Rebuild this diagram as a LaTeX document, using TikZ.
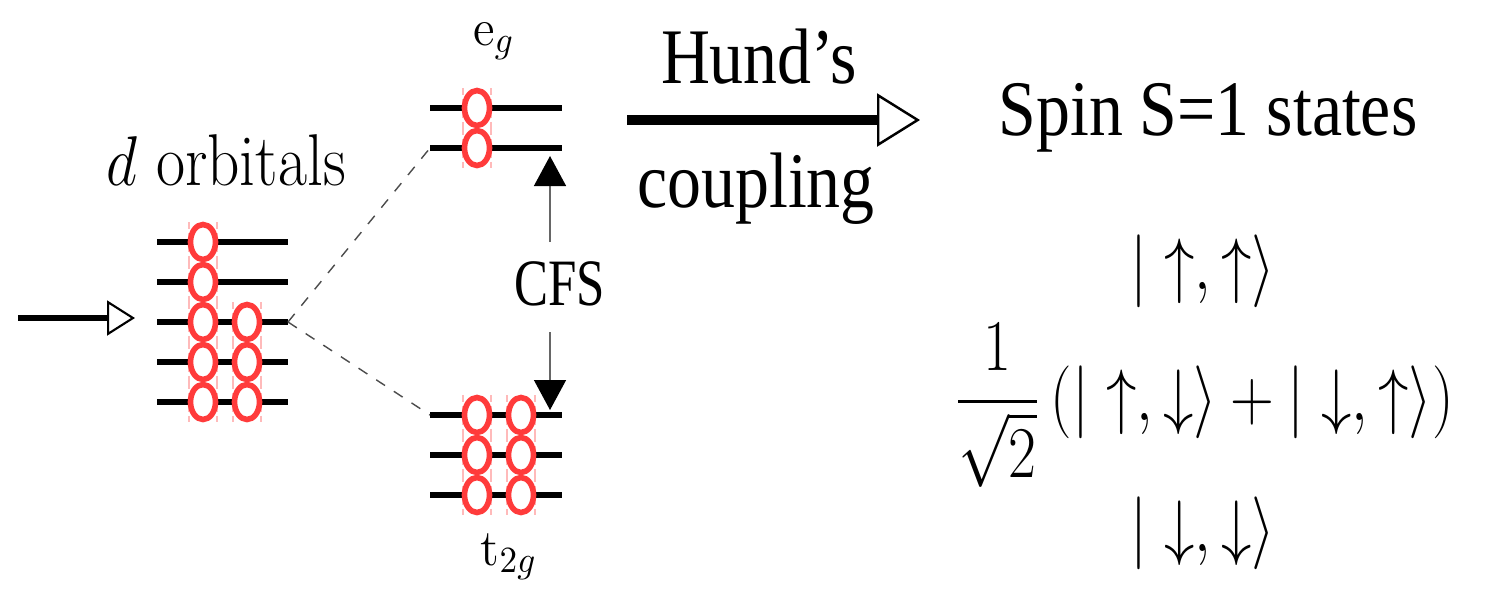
\documentclass[tikz,border=0pt]{standalone}
\usepackage{amsmath,amssymb}
\usepackage{graphicx}
\usepackage{fontspec}
\usepackage{tikz}
\usetikzlibrary{arrows.meta}
\newfontfamily\timesrm{Liberation Serif}
\definecolor{cred}{HTML}{FF3B3B}
\definecolor{cink}{HTML}{000000}
\newcommand{\tallbox}[2]{\scalebox{1}[#1]{#2}}

\begin{document}
\begin{tikzpicture}[x=0.1mm,y=-0.1mm,
    level/.style={cink,line width=1.75pt},
    elec/.style={draw=cred,fill=white,line width=1.6pt},
    ghost/.style={cred!35,line width=0.3pt,dash pattern=on 2pt off 1.2pt},
    split/.style={dashed,black!70,line width=0.4pt},
    lab/.style={inner sep=0pt,anchor=base}]
        \useasboundingbox (0,0) rectangle (1497,596);
        % levels: d shell, e_g pair, t_2g triple
        \foreach \y in {242,282,...,402}{\draw[level] (157,\y) -- (288,\y);}
        \foreach \y in {108,148}{\draw[level] (430,\y) -- (562,\y);}
        \foreach \y in {415,455,495}{\draw[level] (430,\y) -- (562,\y);}
        % electrons
        \foreach \x/\y in {203/242,203/282,203/322,203/362,203/402,
                           247/322,247/362,247/402,
                           477/108,477/148,
                           477/415,477/455,477/495,521/415,521/455,521/495}{
          \draw[ghost] (\x-14,\y-20) -- (\x-14,\y+20);
          \draw[ghost] (\x+14,\y-20) -- (\x+14,\y+20);
          \draw[elec] (\x,\y) ellipse [x radius=1.25mm,y radius=1.75mm];}
        \coordinate (dR) at (288,322);
        \coordinate (egL) at (430,148);
        \coordinate (tL) at (430,415);
        \draw[split] (dR) -- (egL);
        \draw[split] (dR) -- (tL);
        % incoming arrow
        \coordinate (inS) at (18,318);
        \coordinate (inE) at (135,318);
        \draw[line width=1.8pt,-{Triangle[open,length=2.8mm,width=3.5mm,line width=0.6pt]}] (inS) -- (inE);
        % crystal field splitting
        \node[lab] (cfs) at (560,305) {\timesrm\fontsize{14.5}{16}\selectfont\tallbox{1.3}{CFS}};
        \coordinate (cfsT) at (550,242);
        \coordinate (cfsB) at (550,332);
        \coordinate (egB) at (550,156);
        \coordinate (tT) at (550,410);
        \draw[black!60,line width=0.4pt,-{Triangle[length=3mm,width=3.2mm,color=black]}] (cfsT) -- (egB);
        \draw[black!60,line width=0.4pt,-{Triangle[length=3mm,width=3.2mm,color=black]}] (cfsB) -- (tT);
        % labels
        \node[lab] (dlab) at (226,185) {\fontsize{18}{21}\selectfont\tallbox{1.16}{$d$ orbitals}};
        \node[lab] (eglab) at (494,45) {\fontsize{14}{16}\selectfont\tallbox{1.05}{$\mathrm{e}_g$}};
        \node[lab] (tlab) at (509,565) {\fontsize{14}{16}\selectfont\tallbox{1.05}{$\mathrm{t}_{2g}$}};
        % Hund's coupling
        \coordinate (hS) at (627,120);
        \coordinate (hE) at (920,120);
        \draw[line width=2.85pt,-{Triangle[open,length=4.3mm,width=5.3mm,line width=0.7pt]}] (hS) -- (hE);
        \node[lab] (hund) at (759,83) {\timesrm\fontsize{19.3}{22}\selectfont\tallbox{1.16}{Hund’s}};
        \node[lab] (coup) at (756,207) {\timesrm\fontsize{19.3}{22}\selectfont\tallbox{1.16}{coupling}};
        % triplet
        \node[lab] (spin) at (1208,135) {\timesrm\fontsize{19.3}{22}\selectfont\tallbox{1.16}{Spin S=1 states}};
        \node[lab] (up) at (1203,289) {\fontsize{17}{20}\selectfont\tallbox{1.2}{$|\uparrow,\uparrow\rangle$}};
        \node[lab] (mix) at (1204,420) {\fontsize{17}{20}\selectfont\tallbox{1.2}{$\displaystyle\frac{1}{\sqrt{2}}\,(|\uparrow,\downarrow\rangle+|\downarrow,\uparrow\rangle)$}};
        \node[lab] (dn) at (1203,551) {\fontsize{17}{20}\selectfont\tallbox{1.2}{$|\downarrow,\downarrow\rangle$}};
      \end{tikzpicture}
\end{document}
